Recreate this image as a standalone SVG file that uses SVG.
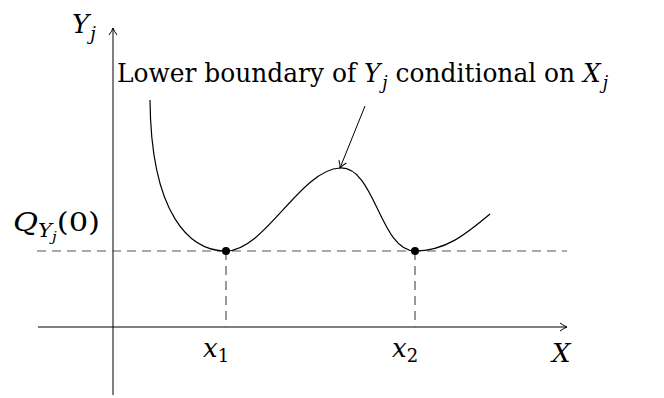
<svg xmlns="http://www.w3.org/2000/svg" width="664" height="398" viewBox="0 0 664 398">
<style>
.t{font-family:"DejaVu Serif","Liberation Serif",serif;font-size:26px;fill:#000}
.m{font-style:italic}
.ax{stroke:#000;stroke-width:1;fill:none}
.dash{stroke:#555;stroke-width:1.2;stroke-dasharray:9,6;fill:none}
.curve{stroke:#000;stroke-width:1.2;fill:none}
</style>
<defs>
<marker id="ah" markerWidth="10" markerHeight="10" refX="8" refY="5" orient="auto" markerUnits="userSpaceOnUse">
<path d="M1,1 Q5,4 8,5 Q5,6 1,9" fill="none" stroke="#000" stroke-width="1"/>
</marker>
</defs>
<g id="connectors">
<line class="ax" x1="113" y1="395" x2="113" y2="28" marker-end="url(#ah)"/>
<line class="ax" x1="38" y1="327" x2="567" y2="327" marker-end="url(#ah)"/>
<line class="dash" x1="37" y1="251" x2="567" y2="251"/>
<line class="dash" x1="226" y1="251" x2="226" y2="327"/>
<line class="dash" x1="415" y1="251" x2="415" y2="327"/>
<path class="curve" d="M150,100 C151,215 190,251 226,251 C265,251 300,170 340,168 C375,166 380,251 415,251 C445,251 465,235 490,214"/>
<line class="ax" x1="365" y1="106" x2="340" y2="168" marker-end="url(#ah)"/>
</g>
<g id="p1"><circle cx="226" cy="251" r="4" fill="#000"/></g>
<g id="p2"><circle cx="415" cy="251" r="4" fill="#000"/></g>
<g id="ylabel"><text class="t m" x="72" y="33">Y<tspan font-size="18" dx="1" dy="7">j</tspan></text></g>
<g id="label"><text class="t" x="117" y="82" textLength="491" lengthAdjust="spacingAndGlyphs">Lower boundary of <tspan class="m">Y</tspan><tspan class="m" font-size="18" dx="2" dy="7">j</tspan><tspan dy="-7"> conditional on </tspan><tspan class="m">X</tspan><tspan class="m" font-size="18" dx="2" dy="7">j</tspan></text></g>
<g id="qlabel"><text class="t" x="13" y="231" textLength="87" lengthAdjust="spacingAndGlyphs"><tspan class="m">Q</tspan><tspan class="m" font-size="18" dy="6">Y</tspan><tspan class="m" font-size="13" dy="4">j</tspan><tspan dy="-10">(0)</tspan></text></g>
<g id="x1"><text class="t m" x="203" y="357">x<tspan font-size="18" font-style="normal" dy="5">1</tspan></text></g>
<g id="x2"><text class="t m" x="392" y="357">x<tspan font-size="18" font-style="normal" dy="5">2</tspan></text></g>
<g id="xlabel"><text class="t m" x="552" y="362">X</text></g>
</svg>
